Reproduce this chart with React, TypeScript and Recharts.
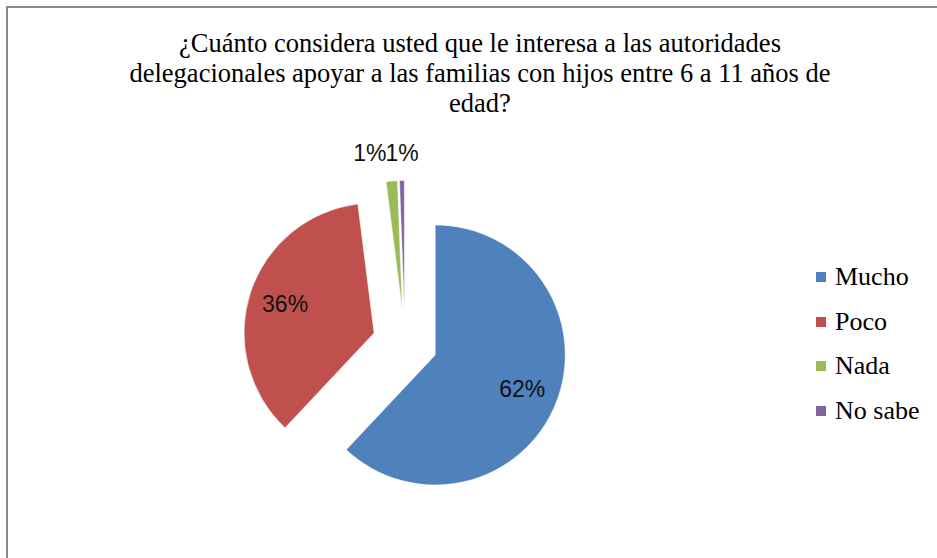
import React from 'react';
import { PieChart, Pie, Cell, Legend } from 'recharts';

const categories = ['Mucho', 'Poco', 'Nada', 'No sabe'];
const values = [62, 36, 1.4, 0.6];
const colors = ['#4F81BD', '#C0504D', '#9BBB59', '#8064A2'];
const titleLines = [
  '¿Cuánto considera usted que le interesa a las autoridades',
  'delegacionales apoyar a las familias con hijos entre 6 a 11 años de',
  'edad?',
];

const data = categories.map((name, i) => ({ name, value: values[i] }));

const W = 937;
const H = 558;
const CX = 405;
const CY = 343;
const R = 130;
const EXPLODE = 32.5;
const RADIAN = Math.PI / 180;

const total = values.reduce((a, b) => a + b, 0);
const midAngles: number[] = [];
{
  let cum = 0;
  values.forEach((v) => {
    midAngles.push(90 - (360 * (cum + v / 2)) / total);
    cum += v;
  });
}

const makeLabel = (idx: number) => (props: any) => {
  const { cx, cy, midAngle, outerRadius, percent, index } = props;
  if (index !== idx) return null;
  const txt = `${Math.round(percent * 100)}%`;
  const small = percent < 0.05;
  const rr = small ? outerRadius + 28 : outerRadius * 0.72;
  let x = cx + rr * Math.cos(-midAngle * RADIAN);
  const y = cy + rr * Math.sin(-midAngle * RADIAN);
  let anchor: 'middle' | 'start' | 'end' = 'middle';
  if (small) {
    if (index === 2) {
      anchor = 'end';
      x = x - 3;
    } else {
      anchor = 'start';
      x = x - 16;
    }
  }
  return (
    <text
      key={`lbl-${idx}`}
      x={x}
      y={y}
      fill="#111"
      textAnchor={anchor}
      dominantBaseline="central"
      style={{ fontFamily: '"Liberation Sans", Arial, sans-serif', fontSize: 23 }}
    >
      {txt}
    </text>
  );
};

const LegendContent = () => (
  <div style={{ fontFamily: '"Liberation Serif", "Times New Roman", serif', fontSize: 26, color: '#000' }}>
    {categories.map((c, i) => (
      <div key={c} style={{ display: 'flex', alignItems: 'center', height: 44.5 }}>
        <div style={{ width: 10, height: 10, background: colors[i], marginRight: 9 }} />
        <span style={{ lineHeight: '30px' }}>{c}</span>
      </div>
    ))}
  </div>
);

export default function App() {
  return (
    <div style={{ position: 'absolute', left: 0, top: 0, width: W, height: H, background: '#fff', overflow: 'hidden' }}>
      <div
        style={{
          position: 'absolute',
          left: 6,
          top: 6,
          width: 1000,
          height: 700,
          border: '2px solid #898989',
          boxSizing: 'border-box',
        }}
      />
      <div
        style={{
          position: 'absolute',
          left: 0,
          top: 28,
          width: 960,
          textAlign: 'center',
          fontFamily: '"Liberation Serif", "Times New Roman", serif',
          fontSize: 26.5,
          lineHeight: '30px',
          color: '#000',
        }}
      >
        {titleLines.map((l) => (
          <div key={l} style={{ whiteSpace: 'nowrap' }}>{l}</div>
        ))}
      </div>
      <div style={{ position: 'absolute', left: 0, top: 0 }}>
        <PieChart width={W} height={H} margin={{ top: 0, right: 0, bottom: 0, left: 0 }}>
          {categories.map((c, i) => (
            <Pie
              key={c}
              data={data}
              dataKey="value"
              nameKey="name"
              cx={CX + EXPLODE * Math.cos(midAngles[i] * RADIAN)}
              cy={CY - EXPLODE * Math.sin(midAngles[i] * RADIAN)}
              outerRadius={R}
              startAngle={90}
              endAngle={-270}
              isAnimationActive={false}
              label={makeLabel(i)}
              labelLine={false}
              legendType="none"
            >
              {data.map((d, j) => (
                <Cell
                  key={d.name}
                  fill={j === i ? colors[j] : 'transparent'}
                  stroke={j === i ? '#fff' : 'none'}
                  strokeWidth={j === i ? 0.5 : 0}
                />
              ))}
            </Pie>
          ))}
          <Legend
            content={<LegendContent />}
            wrapperStyle={{ position: 'absolute', left: 816, top: 255, width: 120 }}
          />
        </PieChart>
      </div>
    </div>
  );
}
